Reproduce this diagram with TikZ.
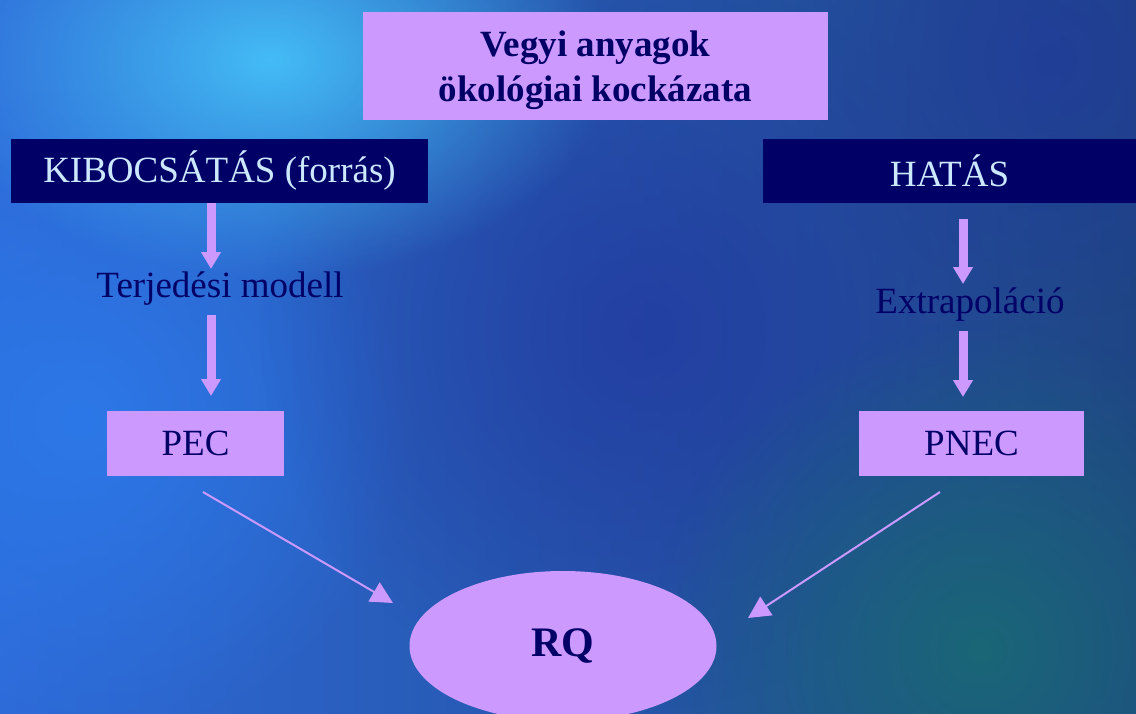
\documentclass[tikz,border=0pt]{standalone}
\usepackage{fontspec}
\setmainfont{Liberation Serif}
\usetikzlibrary{arrows.meta,shapes.geometric,fadings}
\definecolor{lilac}{HTML}{CC99FF}
\definecolor{navy}{HTML}{000066}
\definecolor{paletext}{HTML}{CCE8FF}
\definecolor{bgL}{HTML}{2E6AD8}
\definecolor{bgR}{HTML}{1F4585}
\definecolor{glowcyan}{HTML}{48CCFF}
\definecolor{deepblue}{HTML}{2238A0}
\definecolor{tealish}{HTML}{1A6676}
\definecolor{midblue}{HTML}{2C78E8}
\tikzfading[name=fz, inner color=transparent!0, outer color=transparent!100]
\tikzset{
  lilacbox/.style={fill=lilac, draw=none, inner sep=0pt, text=navy},
  navybox/.style={fill=navy, draw=none, inner sep=0pt, text=paletext},
  bigfont/.style={font=\fontsize{37}{45}\selectfont},
  midtext/.style={text=navy, inner sep=0pt, anchor=base, font=\fontsize{37}{45}\selectfont},
  blockarrow/.style={draw=lilac, line width=9pt, -{Triangle[width=19pt,length=17pt]}},
  thinarrow/.style={draw=lilac, line width=2pt, -{Triangle[width=22pt,length=22pt]}},
}
\begin{document}
\begin{tikzpicture}[x=1pt,y=-1pt]
\useasboundingbox (0,0) rectangle (1136,713);
\clip (0,0) rectangle (1136,713);
% background
\fill[left color=bgL, right color=bgR] (0,0) rectangle (1136,713);
\fill[midblue, path fading=fz] (80,420) circle (330);
\fill[deepblue, path fading=fz, opacity=0.75] (640,330) circle (380);
\fill[tealish, path fading=fz] (980,650) circle (330);
\fill[deepblue, path fading=fz, opacity=0.6] (1050,60) circle (260);
\fill[glowcyan, path fading=fz, opacity=0.85] (270,60) ellipse (340 and 220);
% boxes
\node[lilacbox, minimum width=465pt, minimum height=108pt] (title) at (595.5,66) {};
\node[text=navy, inner sep=0pt, align=center,
      font=\fontsize{37}{45}\selectfont\bfseries] (titletext) at (595.5,70)
      {Vegyi anyagok\\ökológiai kockázata};
\node[navybox, bigfont, minimum width=417pt, minimum height=64pt] (kib) at (219.5,171) {KIBOCSÁTÁS (forrás)};
\node[navybox, bigfont, minimum width=373pt, minimum height=64pt] (hat) at (949.5,171) {HATÁS};
\node[midtext] (terj) at (220,297) {Terjedési modell};
\node[midtext] (extr) at (970,313) {Extrapoláció};
\node[lilacbox, bigfont, minimum width=177pt, minimum height=65pt] (pec) at (195.5,443.5) {PEC};
\node[lilacbox, bigfont, minimum width=225pt, minimum height=65pt] (pnec) at (971.5,443.5) {PNEC};
\node[ellipse, fill=lilac, draw=none, inner sep=0pt, minimum width=307pt, minimum height=150pt,
      text=navy, font=\fontsize{42}{50}\selectfont\bfseries] (rq) at (563,646) {RQ};
% connector end points
\coordinate (a1s) at (211,203);
\coordinate (a1e) at (211,269);
\coordinate (a2s) at (211,315);
\coordinate (a2e) at (211,396);
\coordinate (b1s) at (963,219);
\coordinate (b1e) at (963,284);
\coordinate (b2s) at (963,331);
\coordinate (b2e) at (963,397);
\coordinate (d1s) at (203,492);
\coordinate (d1e) at (393,603);
\coordinate (d2s) at (940,492);
\coordinate (d2e) at (748,618);
% connectors
\draw[blockarrow] (a1s) -- (a1e);
\draw[blockarrow] (a2s) -- (a2e);
\draw[blockarrow] (b1s) -- (b1e);
\draw[blockarrow] (b2s) -- (b2e);
\draw[thinarrow] (d1s) -- (d1e);
\draw[thinarrow] (d2s) -- (d2e);
\end{tikzpicture}
\end{document}
